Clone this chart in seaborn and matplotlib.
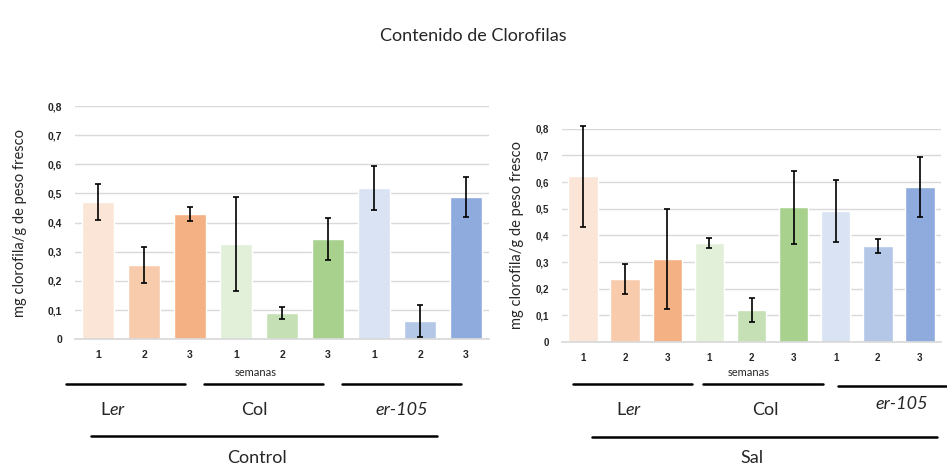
import matplotlib
matplotlib.use("Agg")
import matplotlib.pyplot as plt
import seaborn as sns
import pandas as pd
import numpy as np
from matplotlib.lines import Line2D

# ---- data ----
lineas = ["Ler", "Col", "er-105"]
semanas = ["1", "2", "3"]
grupos = [f"{l} {s}" for l in lineas for s in semanas]
control_vals = [0.471, 0.255, 0.430, 0.327, 0.090, 0.344, 0.519, 0.063, 0.488]
control_err = [0.063, 0.063, 0.024, 0.161, 0.020, 0.071, 0.076, 0.055, 0.070]
sal_vals = [0.622, 0.236, 0.311, 0.371, 0.120, 0.506, 0.491, 0.360, 0.581]
sal_err = [0.190, 0.056, 0.186, 0.019, 0.045, 0.137, 0.116, 0.025, 0.114]
colores = ["#FBE5D6", "#F8CBAD", "#F4B183",
           "#E2F0D9", "#C5E0B4", "#A9D18E",
           "#DAE3F3", "#B4C7E7", "#8FAADC"]
yticks = [0, 0.1, 0.2, 0.3, 0.4, 0.5, 0.6, 0.7, 0.8]
ylabels_txt = ["0", "0,1", "0,2", "0,3", "0,4", "0,5", "0,6", "0,7", "0,8"]

sns.set_theme(style="white")
plt.rcParams['font.family'] = ['Lato', 'DejaVu Sans']
plt.rcParams['mathtext.fontset'] = 'custom'
plt.rcParams['mathtext.rm'] = 'Lato'
plt.rcParams['mathtext.it'] = 'Lato:italic'

fig = plt.figure(figsize=(9.47, 4.68), dpi=100)
W, H = 947, 468

def fx(px):
    return px / W

def fy(py):
    return 1 - py / H

def draw(ax, vals, errs, tsize):
    tick_font = dict(family=['Liberation Sans', 'DejaVu Sans'], weight='bold', size=tsize)
    df = pd.DataFrame({"grupo": grupos, "valor": vals})
    sns.barplot(data=df, x="grupo", y="valor", hue="grupo",
                palette=dict(zip(grupos, colores)), order=grupos,
                legend=False, width=0.7, errorbar=None, ax=ax,
                saturation=1)
    eb = ax.errorbar(x=np.arange(len(vals)), y=vals, yerr=errs, fmt='none',
                     ecolor='black', elinewidth=1.2, capsize=2, capthick=1.2)
    for art in eb.lines[1] + eb.lines[2]:
        art.set_clip_on(False)
    ax.set_ylim(0, 0.8)
    ax.set_xlim(-0.5, 8.5)
    ax.set_yticks(yticks)
    ax.set_yticklabels(ylabels_txt, fontdict=tick_font)
    ax.set_xticks(range(9))
    ax.set_xticklabels(semanas * 3, fontdict=tick_font)
    ax.tick_params(axis='both', length=0)
    ax.tick_params(axis='y', pad=9)
    ax.tick_params(axis='x', pad=8)
    ax.yaxis.grid(True, color='#D9D9D9', lw=1)
    ax.set_axisbelow(True)
    for s in ['top', 'right', 'left']:
        ax.spines[s].set_visible(False)
    ax.spines['bottom'].set_color('#D9D9D9')
    ax.set_xlabel("")
    ax.set_ylabel("mg clorofila/g de peso fresco", fontsize=10.5)

# left axes
axL = fig.add_axes([fx(75), fy(339.3), fx(489 - 75), (339.3 - 106) / H])
draw(axL, control_vals, control_err, 7.5)
axL.yaxis.set_label_coords(-0.116, 0.5)

# right axes
axR = fig.add_axes([fx(562), fy(342), fx(941 - 562), (342 - 128.7) / H])
draw(axR, sal_vals, sal_err, 7)
axR.yaxis.set_label_coords(-0.101, 0.5)

fig.text(0.5, fy(36), "Contenido de Clorofilas", ha='center', va='center', fontsize=13)

# semanas labels
fig.text(fx(256), fy(372), "semanas", ha='center', va='center', fontsize=8)
fig.text(fx(749), fy(372), "semanas", ha='center', va='center', fontsize=8)

def hline(x0, x1, y):
    fig.add_artist(Line2D([fx(x0), fx(x1)], [fy(y), fy(y)], color='black', lw=1.8))

# left annotations
hline(66, 185, 384)
hline(204, 323, 384)
hline(342, 461, 384)
fig.text(fx(113), fy(415), r"L$\it{er}$", ha='center', va='baseline', fontsize=13)
fig.text(fx(254), fy(415), "Col", ha='center', va='baseline', fontsize=13)
fig.text(fx(402), fy(415), "er-105", ha='center', va='baseline', fontsize=13, style='italic')
hline(91, 437, 436)
fig.text(fx(257), fy(463), "Control", ha='center', va='baseline', fontsize=13)

# right annotations
hline(573, 692, 384)
hline(703, 823, 384)
hline(838, 947, 386)
fig.text(fx(629), fy(415), r"L$\it{er}$", ha='center', va='baseline', fontsize=13)
fig.text(fx(765), fy(415), "Col", ha='center', va='baseline', fontsize=13)
fig.text(fx(902), fy(409), "er-105", ha='center', va='baseline', fontsize=13, style='italic')
hline(592, 937, 437)
fig.text(fx(752), fy(463), "Sal", ha='center', va='baseline', fontsize=13)

fig.savefig("out.png", dpi=100, facecolor='white')
